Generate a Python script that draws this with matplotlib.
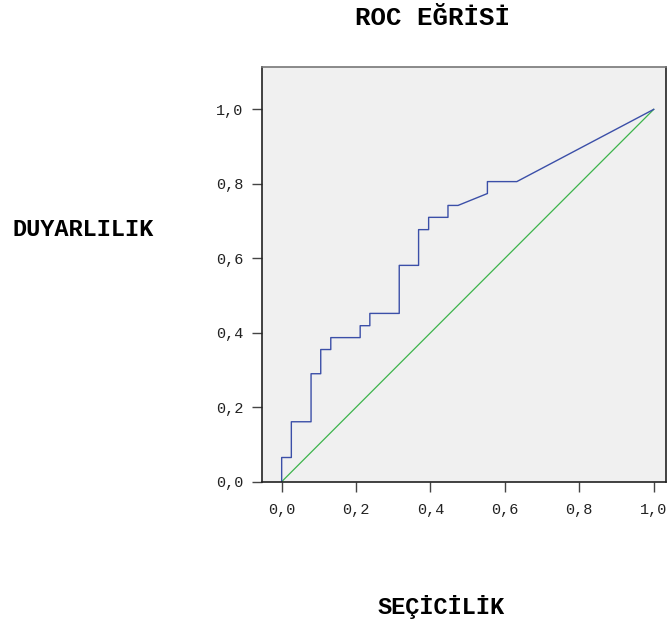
import matplotlib
matplotlib.use('Agg')
import matplotlib.pyplot as plt

# ROC egrisi noktalari (1 - secicilik, duyarlilik)
fpr = [0.0, 0.0, 0.026, 0.026, 0.079, 0.079, 0.105, 0.105, 0.132, 0.132,
       0.211, 0.211, 0.237, 0.237, 0.316, 0.316, 0.368, 0.368, 0.395, 0.395,
       0.447, 0.447, 0.474, 0.553, 0.553, 0.632, 1.0]
tpr = [0.0, 0.065, 0.065, 0.161, 0.161, 0.290, 0.290, 0.355, 0.355, 0.387,
       0.387, 0.419, 0.419, 0.452, 0.452, 0.581, 0.581, 0.677, 0.677, 0.710,
       0.710, 0.742, 0.742, 0.774, 0.806, 0.806, 1.0]
ref_x = [0.0, 1.0]
ref_y = [0.0, 1.0]
ticks = [0.0, 0.2, 0.4, 0.6, 0.8, 1.0]
tick_labels = ['0,0', '0,2', '0,4', '0,6', '0,8', '1,0']

fig = plt.figure(figsize=(6.69, 6.26), dpi=100)
ax = fig.add_axes([0.391, 0.2305, 0.6045, 0.662])
ax.set_facecolor('#f0f0f0')

ax.plot(ref_x, ref_y, color='#3cb44b', lw=0.9)
ax.plot(fpr, tpr, color='#3b4fa8', lw=1.0)

ax.set_xlim(-0.054, 1.033)
ax.set_ylim(0, 1.113)
ax.set_xticks(ticks)
ax.set_yticks(ticks)
ax.set_xticklabels(tick_labels, family='Liberation Mono', fontsize=11, color='#222222')
ax.set_yticklabels(tick_labels, family='Liberation Mono', fontsize=11, color='#222222')
ax.tick_params(direction='out', length=7, width=1, color='#444444')
ax.tick_params(axis='x', pad=8)
ax.tick_params(axis='y', pad=6)

for s in ['left', 'bottom', 'right']:
    ax.spines[s].set_color('#222222')
    ax.spines[s].set_linewidth(1.2)
ax.spines['top'].set_color('#777777')
ax.spines['top'].set_linewidth(1.2)

fig.text(0.647, 0.960, 'ROC EĞRİSİ', family='Liberation Mono', weight='bold',
         fontsize=18.5, ha='center', va='baseline')
fig.text(0.124, 0.623, 'DUYARLILIK', family='Liberation Mono', weight='bold',
         fontsize=17, ha='center', va='baseline')
fig.text(0.659, 0.0192, 'SEÇİCİLİK', family='Liberation Mono', weight='bold',
         fontsize=17, ha='center', va='baseline')

fig.savefig('out.png', dpi=100)
